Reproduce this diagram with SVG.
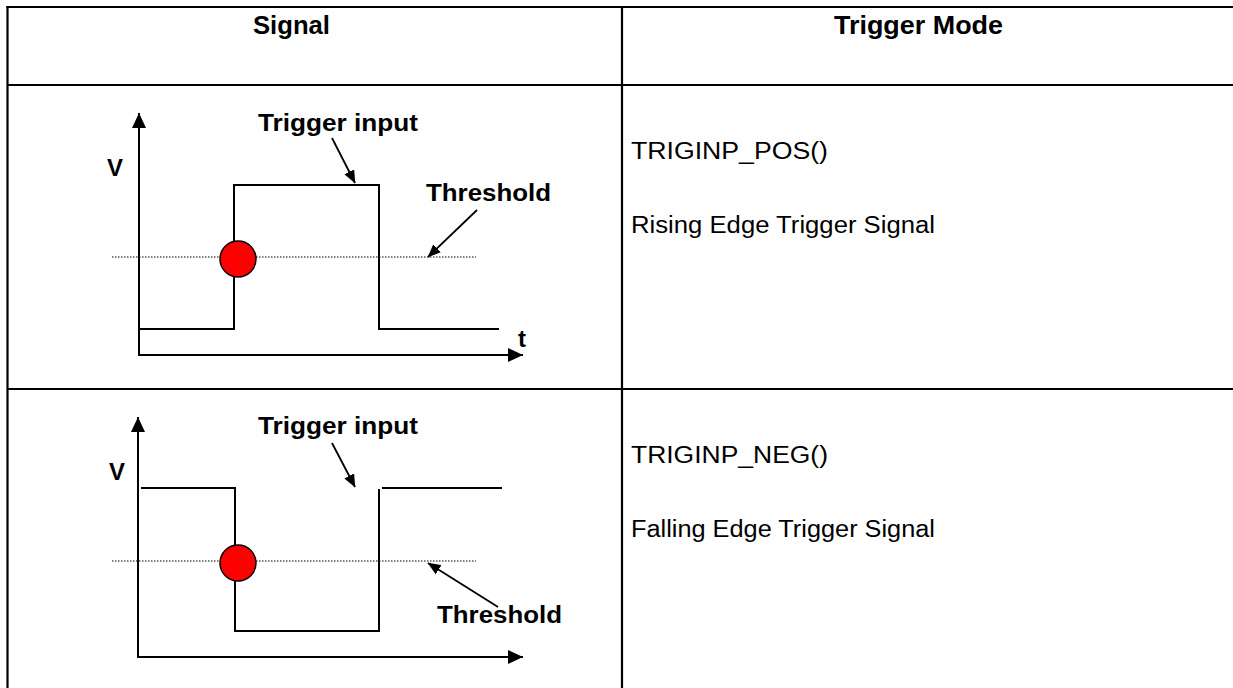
<svg xmlns="http://www.w3.org/2000/svg" width="1233" height="688" viewBox="0 0 1233 688">
<style>
.grid{stroke:#000;stroke-width:2.2;fill:none}
.ln{stroke:#000;stroke-width:2;fill:none}
.dot{stroke:#000;stroke-width:1;stroke-dasharray:1.5 1.5;fill:none}
.arr{stroke:#000;stroke-width:1.8;fill:none;marker-end:url(#ah)}
.ax{stroke:#000;stroke-width:2;fill:none;marker-end:url(#axh)}
.hd{font-family:"Liberation Sans",Arial,sans-serif;font-weight:bold;font-size:25px}
.lb{font-family:"Liberation Sans",Arial,sans-serif;font-weight:bold;font-size:23.5px}
.tx{font-family:"Liberation Sans",Arial,sans-serif;font-size:23px}
.pt{fill:#f00;stroke:#000;stroke-width:1.5}
</style>
<defs>
<marker id="ah" markerWidth="13" markerHeight="11" refX="12.5" refY="5.5" orient="auto" markerUnits="userSpaceOnUse" viewBox="0 0 13 11"><path d="M0,0 L13,5.5 L0,11 Z" fill="#000"/></marker>
<marker id="axh" markerWidth="15" markerHeight="14" refX="15" refY="7" orient="auto" markerUnits="userSpaceOnUse" viewBox="0 0 15 14"><path d="M0,0 L15,7 L0,14 Z" fill="#000"/></marker>
</defs>
<rect x="0" y="0" width="1233" height="688" fill="#fff"/>
<g id="table">
<line class="grid" x1="6.5" y1="7" x2="1233" y2="7"/>
<line class="grid" x1="7.5" y1="6" x2="7.5" y2="688"/>
<line class="grid" x1="622" y1="7" x2="622" y2="688"/>
<line class="grid" x1="7.5" y1="85" x2="1233" y2="85"/>
<line class="grid" x1="7.5" y1="389" x2="1233" y2="389"/>
<text class="hd" x="253" y="34" textLength="77" lengthAdjust="spacingAndGlyphs">Signal</text>
<text class="hd" x="834" y="34" textLength="169" lengthAdjust="spacingAndGlyphs">Trigger Mode</text>
</g>
<g id="rising-signal">
<line class="ax" x1="139" y1="355" x2="139" y2="113"/>
<line class="ax" x1="138" y1="355" x2="523" y2="355"/>
<line class="dot" x1="112" y1="257" x2="476" y2="257"/>
<polyline class="ln" points="139,329 234,329 234,185 379,185 379,329 499,329"/>
<circle class="pt" cx="238" cy="259" r="18"/>
<text class="lb" x="107" y="176" textLength="16" lengthAdjust="spacingAndGlyphs">V</text>
<text class="lb" x="518" y="347" textLength="8" lengthAdjust="spacingAndGlyphs">t</text>
<text class="lb" x="258" y="131" textLength="160" lengthAdjust="spacingAndGlyphs">Trigger input</text>
<text class="lb" x="426" y="201" textLength="125" lengthAdjust="spacingAndGlyphs">Threshold</text>
</g>
<g id="falling-signal">
<line class="ax" x1="138" y1="657" x2="138" y2="417"/>
<line class="ax" x1="137" y1="657" x2="523" y2="657"/>
<line class="dot" x1="112" y1="561" x2="476" y2="561"/>
<polyline class="ln" points="141,488 235,488 235,631 379,631 379,489"/>
<line class="ln" x1="382" y1="488" x2="502" y2="488"/>
<circle class="pt" cx="238" cy="563" r="18"/>
<text class="lb" x="109" y="480" textLength="16" lengthAdjust="spacingAndGlyphs">V</text>
<text class="lb" x="258" y="434" textLength="160" lengthAdjust="spacingAndGlyphs">Trigger input</text>
<text class="lb" x="437" y="623" textLength="125" lengthAdjust="spacingAndGlyphs">Threshold</text>
</g>
<g id="connectors">
<line class="arr" x1="332" y1="138" x2="355" y2="183"/>
<line class="arr" x1="477" y1="210" x2="428" y2="257"/>
<line class="arr" x1="332" y1="443" x2="355" y2="487"/>
<line class="arr" x1="498" y1="607" x2="428" y2="563"/>
</g>
<g id="modes">
<text class="tx" x="631" y="159" textLength="197" lengthAdjust="spacingAndGlyphs">TRIGINP_POS()</text>
<text class="tx" x="631" y="233" textLength="304" lengthAdjust="spacingAndGlyphs">Rising Edge Trigger Signal</text>
<text class="tx" x="631" y="463" textLength="197" lengthAdjust="spacingAndGlyphs">TRIGINP_NEG()</text>
<text class="tx" x="631" y="537" textLength="304" lengthAdjust="spacingAndGlyphs">Falling Edge Trigger Signal</text>
</g>
</svg>
